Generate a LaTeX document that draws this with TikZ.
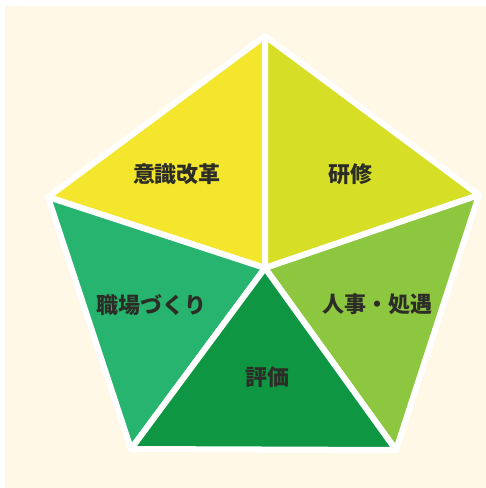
\documentclass[tikz,border=0pt]{standalone}
\usepackage{fontspec}
\newfontfamily\cjk{Noto Sans CJK JP}
\usepackage{tikz}
\definecolor{pbg}{RGB}{255,248,231}
\definecolor{pyellow}{RGB}{243,230,44}
\definecolor{plime}{RGB}{214,223,38}
\definecolor{plight}{RGB}{141,198,63}
\definecolor{pdark}{RGB}{14,150,66}
\definecolor{pmid}{RGB}{38,180,110}
\definecolor{ptext}{RGB}{45,45,40}

\begin{document}
\begin{tikzpicture}[x=0.5pt, y=-0.5pt,
  seg/.style={draw=white, line width=3pt, line join=round},
  lbl/.style={text=ptext, font=\cjk\bfseries\fontsize{11}{13}\selectfont}]
  \useasboundingbox (0,0) rectangle (486,488);
  \fill[white] (0,0) rectangle (486,488);
  \fill[pbg] (5,6) rectangle (486,488);
  \coordinate (c) at (265,268);
  \coordinate (t) at (265,36);
  \coordinate (r) at (479,195);
  \coordinate (br) at (396,450);
  \coordinate (bl) at (131,449);
  \coordinate (l) at (48,197);
  \draw[seg, fill=pyellow] (c) -- (l) -- (t) -- cycle;
  \draw[seg, fill=plime] (c) -- (t) -- (r) -- cycle;
  \draw[seg, fill=plight] (c) -- (r) -- (br) -- cycle;
  \draw[seg, fill=pmid] (c) -- (bl) -- (l) -- cycle;
  \draw[seg, fill=pdark] (c) -- (br) -- (bl) -- cycle;
  \node[lbl] (ishiki) at (177,174) {意識改革};
  \node[lbl] (kenshu) at (350,174) {研修};
  \node[lbl] (shokuba) at (152,305) {職場づくり};
  \node[lbl] (jinji) at (377,304) {人事・処遇};
  \node[lbl] (hyoka) at (267,377) {評価};
\end{tikzpicture}
\end{document}
